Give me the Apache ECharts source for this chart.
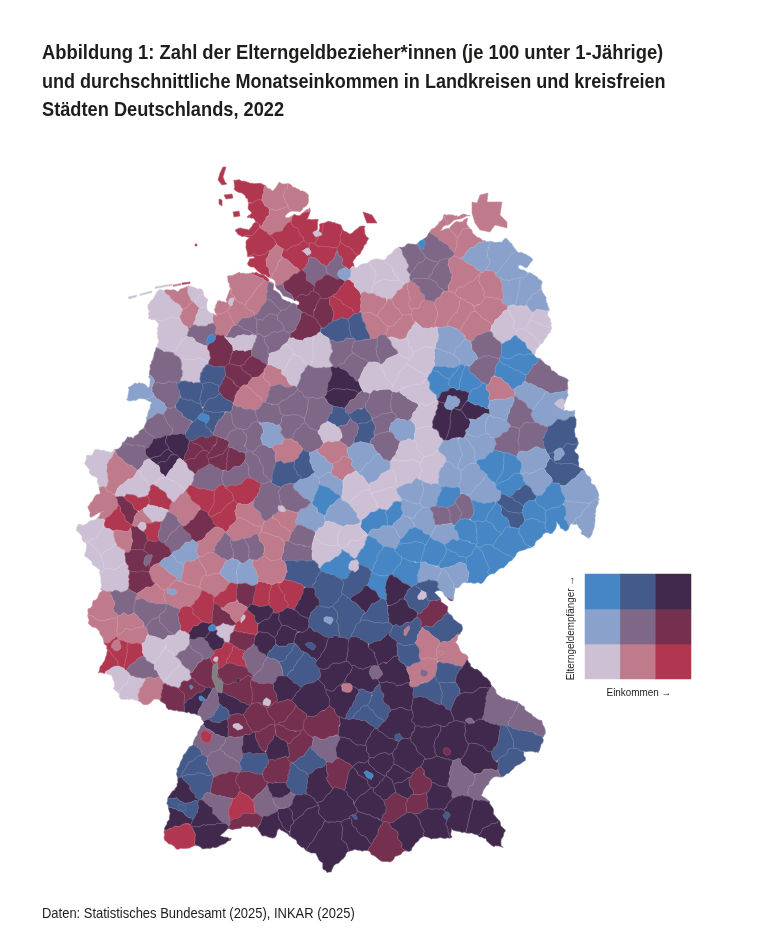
<!DOCTYPE html>
<html lang="de"><head><meta charset="utf-8">
<style>html,body{margin:0;padding:0;background:#fff}#c{width:768px;height:951px}</style>
<script src="https://cdn.jsdelivr.net/npm/echarts@6/dist/echarts.min.js"></script>
</head><body><div id="c"></div>
<script>
// Bivariate classes: income (columns) x Elterngeld recipients (rows)
const classCodes = ['A','B','C','D','E','F','G','H','I','N'];
const classColors = ['#cdc0d4','#bf7a8c','#b0374f','#89a1cb','#7f6787','#752f4f','#4686c4','#435a8a','#40294d','#808080'];
const incomeLevels = ['niedrig','mittel','hoch'];
const recipientLevels = ['niedrig','mittel','hoch'];
const legendCells = [[0,0,0],[1,0,1],[2,0,2],[0,1,3],[1,1,4],[2,1,5],[0,2,6],[1,2,7],[2,2,8]];
const titleLines = ['Abbildung 1: Zahl der Elterngeldbezieher*innen (je 100 unter 1-Jährige)','und durchschnittliche Monatseinkommen in Landkreisen und kreisfreien','Städten Deutschlands, 2022'];
const titleWidths = [0.897,0.880,0.889];
const sourceLine = 'Daten: Statistisches Bundesamt (2025), INKAR (2025)';

const outline = [[235,181],[253,183],[262,183],[270,190],[278,185],[287,183],[297,188],[307,192],[308,200],[299,211],[285,215],[285,218],[300,216],[309,206],[309,218],[318,220],[317,227],[315,237],[320,225],[327,222],[337,225],[347,232],[353,232],[365,227],[367,240],[360,250],[353,262],[357,267],[370,260],[383,262],[387,258],[393,251],[417,243],[430,235],[438,223],[442,214],[457,217],[468,215],[460,220],[445,223],[441,230],[448,227],[462,222],[468,219],[470,228],[476,236],[487,240],[495,243],[502,243],[508,238],[512,245],[517,252],[527,254],[535,260],[530,265],[520,267],[520,270],[537,275],[540,280],[545,293],[548,312],[552,317],[548,337],[537,347],[537,357],[553,370],[567,380],[567,397],[565,408],[573,410],[577,428],[575,450],[580,460],[579,470],[593,480],[598,495],[597,517],[588,537],[580,535],[578,523],[565,530],[557,520],[557,528],[520,552],[510,560],[500,570],[483,582],[470,583],[457,587],[450,603],[442,592],[437,594],[444,606],[450,616],[462,628],[457,643],[467,660],[470,668],[480,673],[493,688],[503,697],[517,703],[528,712],[540,720],[545,730],[545,743],[538,752],[525,750],[523,762],[507,773],[493,780],[483,793],[498,817],[503,828],[503,847],[493,847],[487,840],[473,833],[453,830],[452,838],[427,837],[403,853],[393,860],[380,860],[370,852],[345,850],[345,857],[333,872],[328,872],[323,865],[315,852],[300,845],[287,837],[280,830],[273,838],[263,835],[257,828],[243,827],[232,827],[222,833],[220,838],[232,838],[228,845],[213,847],[190,848],[175,848],[165,840],[165,828],[168,817],[170,797],[177,780],[183,753],[193,743],[203,723],[200,718],[190,712],[167,708],[157,700],[145,703],[140,700],[123,700],[113,688],[112,677],[100,672],[100,665],[105,657],[108,647],[98,633],[90,627],[88,610],[92,600],[103,593],[103,590],[100,577],[93,563],[83,553],[85,547],[82,537],[77,528],[90,520],[103,513],[90,515],[88,507],[100,493],[95,477],[85,463],[84,457],[95,450],[110,453],[127,437],[132,440],[147,422],[150,405],[143,400],[128,398],[128,387],[133,383],[147,387],[150,388],[148,377],[155,352],[158,342],[157,335],[160,322],[148,319],[148,305],[157,292],[172,290],[192,287],[202,290],[207,305],[210,313],[218,316],[215,308],[217,300],[228,302],[228,287],[230,275],[240,272],[257,275],[270,279],[277,290],[284,300],[298,306],[298,302],[286,296],[279,287],[272,277],[260,272],[250,268],[248,260],[255,258],[247,257],[245,247],[247,240],[250,237],[237,235],[235,230],[247,228],[255,222],[252,217],[247,217],[252,213],[247,200],[235,188]];

const islands = [
 [[[223,167],[226,167],[223,177],[225,182],[227,184],[222,185],[218,180],[220,173]],'C'],
 [[[224,195],[232,194],[233,198],[226,199]],'C'],
 [[[219,199],[222,200],[222,206],[219,204]],'C'],
 [[[233,212],[239,211],[240,216],[234,217]],'C'],
 [[[195,244],[197,244],[197,246],[195,246]],'C'],
 [[[363,212],[372,215],[377,223],[367,223],[365,218]],'C'],
 [[[128,297],[137,295],[136,297],[129,299]],'A'],
 [[[140,294],[152,291],[152,292.5],[140,295.5]],'A'],
 [[[155,287],[172,284],[172,285.5],[155,288.5]],'A'],
 [[[173,285],[181,283.5],[181,285],[173,286.5]],'B'],
 [[[182,283],[190,282],[190,283.5],[182,284.5]],'C'],
 [[[472,202],[477,203],[480,195],[488,193],[487,202],[502,202],[500,215],[507,222],[507,228],[495,225],[490,232],[480,230],[475,223],[472,213]],'B'],
 [[[213,665],[218,663],[217,677],[223,682],[222,693],[218,692],[212,678]],'N']
];

// district centres with their class
const districts = [
[250,195,'C'],[257,212,'C'],[245,222,'C'],[275,197,'B'],[297,197,'B'],[275,220,'B'],[258,245,'C'],[262,262,'C'],[288,238,'C'],[308,228,'C'],[295,255,'C'],[330,238,'C'],[352,243,'C'],[345,255,'C'],[325,255,'C'],
[283,268,'B'],[275,262,'B'],[318,272,'E'],[335,262,'E'],[300,285,'F'],[310,303,'F'],[327,287,'F'],[303,327,'F'],[325,310,'F'],[347,297,'C'],[338,310,'C'],
[365,280,'A'],[385,275,'A'],[397,263,'A'],[385,287,'A'],[372,325,'B'],[403,303,'B'],[417,300,'B'],[390,313,'B'],[400,330,'B'],[423,310,'B'],[375,305,'B'],[340,330,'H'],[360,328,'H'],
[447,232,'B'],[470,240,'B'],[457,225,'B'],[427,267,'E'],[413,257,'E'],[440,277,'E'],[432,250,'E'],[430,290,'E'],
[513,270,'D'],[497,255,'D'],[527,290,'D'],[540,303,'D'],[480,253,'D'],[510,288,'D'],
[473,293,'B'],[460,277,'B'],[493,290,'B'],[463,313,'B'],[447,307,'B'],[490,307,'B'],[475,325,'B'],
[520,320,'A'],[537,330,'A'],[507,327,'A'],[527,337,'A'],[543,318,'A'],[485,347,'E'],[483,367,'E'],[517,350,'G'],[518,362,'G'],[510,375,'G'],
[453,347,'D'],[447,360,'D'],[463,353,'D'],[417,340,'A'],[400,345,'A'],[423,360,'A'],[387,350,'E'],
[245,290,'B'],[238,315,'B'],[258,300,'B'],[277,300,'E'],[270,323,'E'],[273,343,'E'],[243,330,'E'],[290,318,'E'],[303,350,'A'],[322,352,'A'],[340,350,'E'],[368,350,'E'],[355,368,'E'],
[223,320,'B'],[220,303,'B'],[197,293,'A'],[172,308,'A'],[182,297,'B'],[192,312,'B'],[202,300,'A'],[203,317,'A'],[172,330,'A'],[202,333,'E'],[197,350,'A'],[195,370,'A'],[168,373,'E'],[165,393,'E'],
[220,353,'F'],[243,357,'F'],[243,342,'A'],[262,350,'E'],[268,310,'E'],[245,327,'E'],[238,377,'F'],[228,387,'F'],[250,365,'F'],[212,377,'H'],[192,393,'H'],[210,393,'H'],[215,420,'H'],[202,433,'H'],[218,405,'H'],[190,408,'H'],
[142,392,'D'],[153,408,'D'],[175,420,'E'],[138,440,'E'],[160,425,'E'],[135,453,'E'],[160,450,'I'],[178,447,'I'],[165,462,'I'],[195,453,'F'],[218,450,'F'],[205,443,'F'],[232,460,'F'],
[262,387,'B'],[248,400,'B'],[275,378,'B'],[242,417,'E'],[252,437,'E'],[272,413,'E'],[262,460,'E'],[238,440,'E'],[225,425,'E'],[272,433,'D'],[290,425,'E'],
[293,367,'A'],[280,358,'A'],[313,380,'E'],[345,382,'I'],[345,398,'I'],[290,407,'E'],[320,417,'E'],[307,437,'E'],[277,395,'E'],
[353,405,'E'],[340,418,'H'],[360,417,'H'],[365,430,'H'],[347,430,'E'],[332,432,'A'],[383,423,'E'],[380,407,'E'],[403,408,'E'],[403,430,'D'],[385,442,'E'],
[373,375,'A'],[410,377,'A'],[395,365,'A'],[427,417,'A'],[417,393,'A'],[410,450,'A'],[433,470,'A'],[407,473,'A'],[425,440,'A'],
[445,380,'G'],[447,372,'G'],[465,382,'G'],[442,420,'I'],[458,425,'I'],[475,410,'I'],[478,425,'D'],[457,395,'I'],[457,453,'D'],
[287,453,'B'],[303,467,'H'],[290,470,'H'],[333,453,'B'],[340,470,'B'],[363,457,'D'],[375,470,'D'],[307,487,'D'],[333,480,'D'],[320,465,'D'],
[325,500,'G'],[353,487,'A'],[383,483,'A'],[367,503,'A'],[385,498,'A'],[310,517,'D'],[340,513,'D'],[295,500,'E'],
[285,520,'B'],[300,540,'E'],[413,493,'D'],[410,510,'D'],[420,520,'D'],[450,477,'D'],[430,495,'D'],[447,498,'G'],[453,513,'E'],[465,510,'E'],[445,515,'E'],
[380,520,'G'],[395,515,'G'],[387,533,'D'],[403,525,'D'],[330,537,'A'],[350,540,'A'],[413,537,'G'],[450,533,'D'],[470,480,'D'],[483,493,'D'],
[457,380,'G'],[480,400,'G'],[500,390,'B'],[540,380,'E'],[497,427,'D'],[480,445,'D'],[545,408,'D'],[530,395,'D'],[520,413,'E'],[530,437,'E'],[507,440,'E'],[500,408,'D'],
[560,440,'H'],[560,470,'H'],[565,455,'H'],[533,463,'D'],[535,480,'D'],[577,493,'D'],[587,520,'D'],[575,510,'D'],[508,470,'G'],[495,465,'G'],[515,485,'G'],[463,453,'D'],
[513,505,'H'],[520,495,'H'],[510,515,'H'],[552,500,'G'],[535,515,'G'],[555,515,'G'],[533,527,'G'],[487,530,'G'],[500,520,'G'],[480,510,'G'],[457,547,'G'],[477,567,'G'],[495,560,'G'],[465,530,'G'],[510,540,'G'],
[433,555,'G'],[453,560,'G'],[443,580,'D'],[432,574,'D'],[455,572,'D'],
[280,530,'B'],[298,548,'E'],[327,550,'A'],[353,545,'A'],[340,563,'G'],[370,553,'G'],[387,563,'G'],[413,550,'G'],[407,570,'G'],[380,587,'G'],
[302,573,'H'],[327,590,'H'],[357,583,'H'],[277,600,'C'],[262,597,'C'],[292,595,'C'],[307,603,'I'],[367,598,'I'],[393,590,'I'],[400,613,'I'],[350,613,'H'],[323,620,'H'],[377,613,'H'],[373,630,'H'],[407,633,'H'],[420,600,'H'],[433,613,'F'],[443,630,'H'],[430,590,'H'],
[293,620,'I'],[270,627,'I'],[310,643,'I'],[290,660,'H'],[302,668,'H'],[333,657,'I'],[363,657,'I'],[383,650,'I'],[393,670,'I'],[427,647,'B'],[423,670,'B'],[450,650,'B'],[410,655,'H'],[447,677,'H'],[435,690,'H'],[467,683,'I'],[337,673,'I'],[360,677,'I'],
[368,712,'H'],[360,703,'H'],[378,705,'H'],[447,690,'H'],[500,710,'E'],[525,723,'E'],[520,737,'H'],[513,760,'H'],[505,745,'H'],[310,700,'I'],[347,697,'I'],[393,697,'I'],[430,713,'I'],[470,700,'I'],[487,737,'I'],[447,743,'I'],[480,760,'I'],[397,723,'I'],[427,740,'I'],[407,757,'I'],
[320,727,'F'],[290,723,'F'],[298,747,'F'],[323,748,'E'],[357,733,'I'],[380,747,'I'],[353,750,'I'],[310,760,'H'],[297,780,'H'],[318,780,'I'],[338,775,'F'],[370,775,'I'],[357,785,'I'],[383,763,'I'],[397,777,'I'],[437,773,'I'],[462,780,'E'],[482,783,'E'],[395,803,'F'],[417,800,'F'],[419,785,'F'],[387,788,'I'],[405,788,'I'],[437,797,'I'],[460,813,'I'],[480,817,'I'],[495,837,'I'],[340,803,'I'],[373,803,'I'],[363,827,'I'],[410,830,'I'],[430,820,'I'],[387,845,'F'],[333,840,'I'],[355,835,'I'],[303,823,'I'],[287,815,'I'],[283,800,'E'],
[103,627,'B'],[133,633,'B'],[163,627,'E'],[120,653,'C'],[108,662,'C'],[132,655,'C'],[153,650,'A'],[177,643,'A'],[143,668,'E'],[117,677,'A'],[133,687,'A'],[167,663,'A'],[180,677,'A'],[150,692,'B'],[173,697,'F'],[190,690,'F'],[205,673,'F'],[190,658,'E'],[203,647,'E'],[200,630,'I'],[225,633,'A'],[215,640,'I'],[240,640,'F'],[237,658,'C'],[222,655,'C'],[253,657,'E'],[267,643,'I'],[283,637,'I'],[282,652,'H'],[233,672,'F'],[237,690,'F'],[270,673,'E'],[267,693,'F'],[282,690,'I'],[200,700,'I'],[208,705,'E'],[230,705,'I'],[220,715,'H'],[237,727,'F'],[220,726,'I'],[213,740,'E'],[233,747,'E'],[195,767,'H'],[187,760,'H'],[197,782,'H'],[223,763,'E'],[255,763,'H'],[253,745,'I'],[277,748,'I'],[260,720,'F'],[280,712,'F'],[265,737,'F'],[287,733,'F'],[227,785,'F'],[250,783,'F'],[277,770,'F'],[267,803,'E'],[280,793,'I'],[218,807,'E'],[243,808,'C'],[183,793,'I'],[178,818,'I'],[182,808,'H'],[207,817,'I'],[207,833,'I'],[180,835,'C'],[247,823,'F'],[272,825,'I'],[295,810,'I'],
[97,467,'A'],[120,473,'B'],[163,457,'I'],[153,473,'A'],[180,473,'A'],[137,487,'A'],[167,487,'A'],[207,480,'E'],[197,457,'F'],[223,457,'F'],[237,473,'E'],[257,463,'E'],
[100,507,'B'],[185,510,'B'],[220,503,'C'],[243,493,'C'],[227,513,'C'],[205,497,'C'],[247,513,'B'],[243,530,'B'],[267,503,'E'],[131,512,'F'],[120,520,'C'],[138,505,'C'],[158,500,'C'],[152,512,'A'],[143,518,'B'],[152,530,'C'],[138,538,'F'],[167,530,'E'],[177,540,'E'],[200,527,'F'],
[90,527,'A'],[103,543,'A'],[93,557,'A'],[113,557,'A'],[117,577,'A'],[125,540,'B'],[157,553,'F'],[138,560,'F'],[185,553,'D'],[173,567,'D'],[163,577,'B'],[193,573,'B'],[213,563,'B'],[210,543,'B'],[142,583,'F'],[240,550,'E'],[255,548,'E'],[225,550,'E'],[217,583,'B'],[150,593,'B'],[183,593,'B'],[245,573,'D'],[232,570,'D'],[227,597,'C'],[247,595,'F'],[203,610,'C'],[193,620,'C'],[223,617,'F'],[233,610,'B'],[247,623,'C'],[267,570,'B'],[270,545,'B'],[260,612,'I'],
[123,603,'E'],[148,610,'E'],[167,623,'E'],[105,610,'B'],[130,625,'B']
];

// small towns enclosed by a larger district
const enclaves = [[316,232,4,'A'],[308,253,4,'A'],[345,274,6,'D'],[232,303,3,'A'],[212,339,5,'G'],[202,417,5,'G'],[423,243,4,'G'],[452,403,8,'D'],[558,453,6,'D'],[561,403,5,'A'],[281,507,4,'A'],[355,567,5,'A'],[311,645,4,'H'],[327,620,4,'D'],[423,594,4,'A'],[407,629,4,'B'],[423,672,3,'E'],[442,653,3,'B'],[377,673,7,'E'],[348,689,5,'B'],[398,737,4,'H'],[469,722,4,'E'],[446,753,3,'F'],[353,817,3,'H'],[445,817,3,'H'],[369,775,4,'G'],[117,644,5,'B'],[147,560,5,'E'],[173,593,4,'D'],[141,528,4,'A'],[242,618,3,'A'],[211,627,4,'G'],[215,658,3,'A'],[237,680,3,'I'],[266,702,4,'A'],[203,698,3,'G'],[190,689,2,'G'],[238,728,4,'A'],[207,738,5,'C'],[182,808,3,'H']];

// keep the part of a ring nearer to a than to b, splitting it where the outline is concave
function clipRing(ring,ax,ay,bx,by){
  const mx=(ax+bx)/2,my=(ay+by)/2,nx=bx-ax,ny=by-ay,n=ring.length;
  const s=ring.map(p=>{const v=(p[0]-mx)*nx+(p[1]-my)*ny;return v===0?-1e-9:v;});
  if(s.every(v=>v<0)) return [ring];
  if(s.every(v=>v>0)) return [];
  const i0=s.findIndex(v=>v>0),chains=[],marks=[];
  let cur=null;
  for(let k=0;k<n;k++){
    const i=(i0+k)%n,j=(i+1)%n;
    if(s[i]<0&&cur) cur.pts.push(ring[i]);
    if((s[i]<0)!==(s[j]<0)){
      const t=s[i]/(s[i]-s[j]),X=[ring[i][0]+t*(ring[j][0]-ring[i][0]),ring[i][1]+t*(ring[j][1]-ring[i][1])];
      const along=-ny*X[0]+nx*X[1];
      if(s[j]<0){cur={pts:[X],seen:false};marks.push({along,chain:cur,enter:true});}
      else{cur.pts.push(X);chains.push(cur);marks.push({along,chain:cur,enter:false});cur=null;}
    }
  }
  marks.sort((u,v)=>u.along-v.along);
  for(let m=0;m+1<marks.length;m+=2){
    const u=marks[m],v=marks[m+1];
    if(!u.enter&&v.enter) u.chain.next=v.chain;
    if(!v.enter&&u.enter) v.chain.next=u.chain;
  }
  const rings=[];
  chains.forEach(c=>{
    if(c.seen) return;
    const r=[];let q=c;
    while(q&&!q.seen){q.seen=true;r.push(...q.pts);q=q.next;}
    if(r.length>2) rings.push(r);
  });
  return rings;
}
function area(r){let a=0;r.forEach((p,i)=>{const q=r[(i+1)%r.length];a+=p[0]*q[1]-q[0]*p[1];});return Math.abs(a/2);}
// boundaries follow an irregular line instead of a ruler-straight one
function bend(p){
  const x=p[0],y=p[1];
  return [x+1.5*Math.sin(.21*y+.07*x)+.9*Math.sin(.47*x+.33*y)+.5*Math.sin(1.03*y-.67*x),
          y+1.5*Math.sin(.19*x-.09*y)+.9*Math.sin(.41*y-.37*x)+.5*Math.sin(.97*x+.71*y)];
}
function organic(ring){
  const out=[];
  for(let i=0;i<ring.length;i++){
    const p=ring[i],q=ring[(i+1)%ring.length],n=Math.max(1,Math.ceil(Math.hypot(q[0]-p[0],q[1]-p[1])/2.5));
    for(let k=0;k<n;k++) out.push(bend([p[0]+(q[0]-p[0])*k/n,p[1]+(q[1]-p[1])*k/n]));
  }
  return out;
}
function tint(hex,w){
  const v=[1,3,5].map(i=>parseInt(hex.substr(i,2),16));
  return 'rgb('+v.map(c=>Math.round(c+(255-c)*w)).join(',')+')';
}
const features=[],seriesData=[];
function addFeature(name,rings,code){
  const idx=classCodes.indexOf(code);
  features.push({type:'Feature',properties:{name},geometry:{type:'MultiPolygon',coordinates:rings.map(r=>[r.concat([r[0]])])}});
  seriesData.push({name,value:idx,itemStyle:{borderColor:tint(classColors[idx],idx===8?.24:.18)}});
}
districts.forEach((d,i)=>{
  let cell=[outline];
  const others=districts.map((o,j)=>[Math.hypot(o[0]-d[0],o[1]-d[1]),j]).sort((a,b)=>a[0]-b[0]);
  for(const [dist,j] of others){
    if(j===i||dist===0) continue;
    cell=cell.flatMap(r=>clipRing(r,d[0],d[1],districts[j][0],districts[j][1]));
    if(!cell.length) return;
  }
  cell=cell.filter(r=>area(r)>1);
  if(cell.length) addFeature('Kreis '+(i+1),cell.map(organic),d[2]);
});
enclaves.forEach((e,i)=>{
  const ring=[];
  for(let k=0;k<8;k++){const a=k*Math.PI/4+0.39;ring.push([e[0]+e[2]*Math.cos(a),e[1]+e[2]*Math.sin(a)]);}
  addFeature('Stadt '+(i+1),[organic(ring)],e[3]);
});
islands.forEach((s,i)=>addFeature('Insel '+(i+1),[s[0]],s[1]));
echarts.registerMap('kreise',{type:'FeatureCollection',features});

let minX=1e9,minY=1e9,maxX=-1e9,maxY=-1e9;
features.forEach(f=>f.geometry.coordinates.forEach(poly=>poly[0].forEach(p=>{minX=Math.min(minX,p[0]);maxX=Math.max(maxX,p[0]);minY=Math.min(minY,p[1]);maxY=Math.max(maxY,p[1]);})));

const font='"Liberation Sans",Arimo,sans-serif';
const ink='#1d1d1b';
const chart=echarts.init(document.getElementById('c'),null,{renderer:'canvas'});
chart.setOption({
  animation:false,
  backgroundColor:'#fff',
  graphic:[
    ...titleLines.map((text,i)=>({type:'text',x:42,y:53.5+i*28.5,scaleX:titleWidths[i],
      style:{text,fontFamily:font,fontSize:20.5,fontWeight:'bold',fill:ink,textAlign:'left',textVerticalAlign:'middle'}})),
    {type:'text',x:42,y:914,scaleX:.894,style:{text:sourceLine,fontFamily:font,fontSize:14.5,fill:ink,textAlign:'left',textVerticalAlign:'middle'}},
    {type:'text',x:639,y:693,scaleX:.9,style:{text:'Einkommen →',fontFamily:font,fontSize:11,fill:ink,textAlign:'center',textVerticalAlign:'middle'}},
    {type:'text',x:571,y:628,scaleX:.9,rotation:Math.PI/2,style:{text:'Elterngeldempfänger →',fontFamily:font,fontSize:11,fill:ink,textAlign:'center',textVerticalAlign:'middle'}}
  ],
  visualMap:{type:'piecewise',show:false,seriesIndex:[0,1],
    pieces:classColors.map((color,value)=>({value,color}))},
  grid:{left:585,top:574,width:106,height:105},
  xAxis:{type:'category',data:incomeLevels,axisLine:{show:false},axisTick:{show:false},axisLabel:{show:false},splitLine:{show:false}},
  yAxis:{type:'category',data:recipientLevels,axisLine:{show:false},axisTick:{show:false},axisLabel:{show:false},splitLine:{show:false}},
  series:[{
    type:'map',map:'kreise',
    projection:{project:p=>p,unproject:p=>p},
    left:minX,top:minY,width:maxX-minX,height:maxY-minY,
    roam:false,silent:true,selectedMode:false,
    label:{show:false},emphasis:{disabled:true},
    itemStyle:{borderWidth:0.6,borderJoin:'round'},
    data:seriesData
  },{
    type:'heatmap',data:legendCells,silent:true,itemStyle:{borderWidth:0}
  }]
});
</script></body></html>
